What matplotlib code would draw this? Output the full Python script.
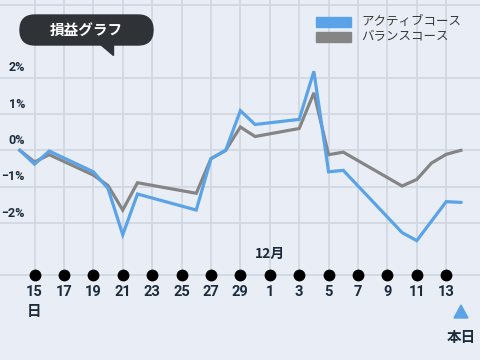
import pandas as pd
import matplotlib
matplotlib.use("Agg")
import matplotlib.pyplot as plt
import matplotlib.transforms as mtrans
from matplotlib.patches import FancyBboxPatch, Polygon, Rectangle

# ---- data ----
active_dates = ["11-14", "11-15", "11-16", "11-19", "11-20", "11-21", "11-22",
                "11-26", "11-27", "11-28", "11-29", "11-30", "12-03", "12-04",
                "12-05", "12-06", "12-10", "12-11", "12-13", "12-14"]
active_vals = [0.00, -0.38, -0.02, -0.59, -1.05, -2.32, -1.20,
               -1.64, -0.23, 0.00, 1.09, 0.71, 0.85, 2.17,
               -0.59, -0.55, -2.26, -2.48, -1.41, -1.43]

balance_dates = ["11-14", "11-15", "11-16", "11-19", "11-20", "11-21", "11-22",
                 "11-26", "11-27", "11-28", "11-29", "11-30", "12-03", "12-04",
                 "12-05", "12-06", "12-10", "12-11", "12-12", "12-13", "12-14"]
balance_vals = [0.00, -0.32, -0.12, -0.68, -0.97, -1.64, -0.89,
                -1.18, -0.23, 0.00, 0.64, 0.38, 0.60, 1.58,
                -0.12, -0.05, -0.98, -0.80, -0.35, -0.11, 0.00]

tick_dates = ["11-15", "11-17", "11-19", "11-21", "11-23", "11-25", "11-27",
              "11-29", "12-01", "12-03", "12-05", "12-07", "12-09", "12-11", "12-13"]
tick_labels = ["15", "17", "19", "21", "23", "25", "27", "29",
               "1", "3", "5", "7", "9", "11", "13"]
ytick_vals = [2, 1, 0, -1, -2]
ytick_labels = ["2%", "1%", "0%", "\u22121%", "\u22122%"]
series_names = ["アクティブコース", "バランスコース"]

BASE = pd.Timestamp("2016-11-15")


def to_days(dates):
    return [(pd.Timestamp("2016-" + d) - BASE).days for d in dates]


BG = "#e9eef6"
GRID = "#d2d8e1"
BLUE = "#5ba3e8"
GRAY = "#858585"
NAVY = "#1c2b3c"
DARK = "#2f3338"
NUM_FONT = ["Roboto", "DejaVu Sans"]
JP_FONT = ["Noto Sans CJK JP", "DejaVu Sans"]

fig = plt.figure(figsize=(4.8, 3.6), dpi=100, facecolor=BG)
ax = fig.add_axes([0, 0, 1, 1], facecolor=BG)
ax.set_xlim(-2.35, 30.3)
ax.set_ylim(-5.76, 4.13)
ax.set_axis_off()

# overlay in pixel units (origin top-left) for annotations
ov = fig.add_axes([0, 0, 1, 1], facecolor="none")
ov.set_xlim(0, 480)
ov.set_ylim(360, 0)
ov.set_axis_off()

bl = mtrans.blended_transform_factory(ax.transData, ov.transData)
AXIS_PY = 275

# grid
tick_x = to_days(tick_dates)
for x in tick_x:
    ax.plot([x, x], [AXIS_PY, 0], transform=bl, color=GRID, lw=1.3, zorder=1)
for v in [4] + ytick_vals:
    ax.axhline(v, color=GRID, lw=1.3, zorder=1)
ax.plot([-3, 31], [AXIS_PY, AXIS_PY], transform=bl, color=GRID, lw=1.3, zorder=1)

# series
ax.plot(to_days(balance_dates), balance_vals, color=GRAY, lw=2.3,
        solid_joinstyle="miter", zorder=3)
ax.plot(to_days(active_dates), active_vals, color=BLUE, lw=2.3,
        solid_joinstyle="miter", zorder=4)

# x axis dots and labels
ax.plot(tick_x, [AXIS_PY] * len(tick_x), "o", transform=bl, color="black",
        ms=7.5, zorder=5, clip_on=False)
for x, lab in zip(tick_x, tick_labels):
    ax.text(x, 292, lab, transform=bl, ha="center", va="center",
            fontsize=10.5, family=NUM_FONT, fontweight="bold", color=NAVY)
ax.text(tick_x[0], 311, "日", transform=bl, ha="center", va="center",
        fontsize=10.5, family=JP_FONT, fontweight="bold", color=NAVY)
ax.text(tick_x[8], 254, "12月", transform=bl, ha="center", va="center",
        fontsize=10, family=JP_FONT, fontweight="bold", color=NAVY)

# today marker
ov.add_patch(Polygon([[461, 305], [454, 318], [468, 318]], closed=True, color=BLUE))
ov.text(461, 337, "本日", ha="center", va="center",
        fontsize=10.5, family=JP_FONT, fontweight="bold", color=NAVY)

# y labels
ylab_tr = mtrans.blended_transform_factory(ov.transData, ax.transData)
for v, lab in zip(ytick_vals, ytick_labels):
    ax.text(25, v + 0.27, lab, transform=ylab_tr, ha="right", va="center",
            fontsize=9, family=NUM_FONT, fontweight="bold", color=NAVY)

# legend
for i, (name, col) in enumerate(zip(series_names, [BLUE, GRAY])):
    top = 17 + 15 * i
    ov.add_patch(Rectangle((316, top), 35, 10, color=col))
    ov.text(361, top + 5, name, ha="left", va="center",
            fontsize=9, family=JP_FONT, color="#3a3a3a")

# title bubble
ov.add_patch(FancyBboxPatch((20, 15), 133, 30,
                            boxstyle="round,pad=0,rounding_size=15", color=DARK))
ov.add_patch(Polygon([[100, 44], [113, 44], [113, 55]], closed=True, color=DARK))
ov.text(86, 30, "損益グラフ", ha="center", va="center",
        fontsize=10.5, family=JP_FONT, fontweight="bold", color="white")

fig.savefig("out.png", dpi=100, facecolor=BG)
